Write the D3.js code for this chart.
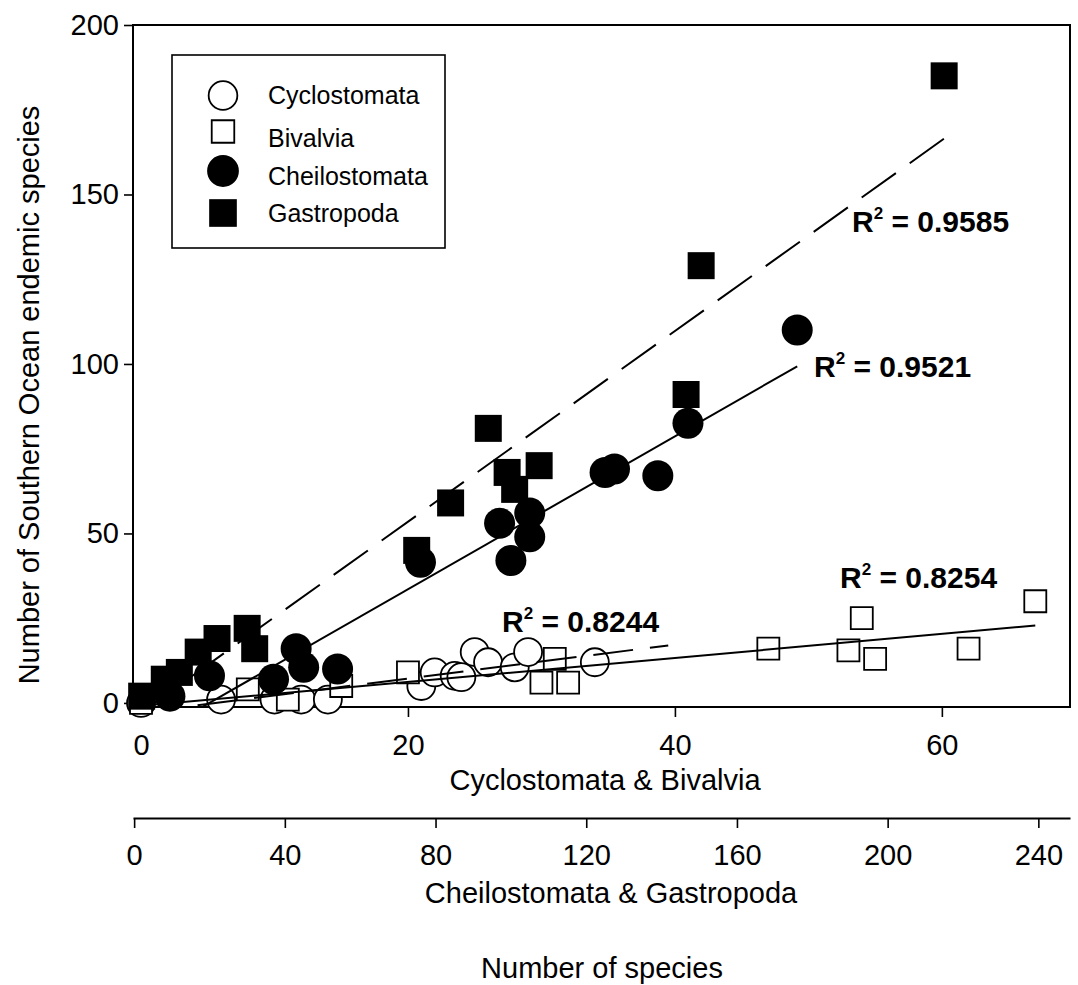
<!DOCTYPE html>
<html>
<head>
<meta charset="utf-8">
<script src="https://cdn.jsdelivr.net/npm/d3@7"></script>
<style>
  body { margin: 0; background: #fff; }
  svg { display: block; }
  text { font-family: "Liberation Sans", Arial, Helvetica, sans-serif; fill: #000; }
</style>
</head>
<body>
<svg id="chart" width="1078" height="985"></svg>
<script>
// ---- data: endemic species vs total species per sampled area ----
// Cyclostomata & Bivalvia use the upper (0-60) x axis
const cycloTotal   = [0, 6, 10, 12, 14, 21, 22, 23.5, 24, 25, 26, 28, 29, 34];
const cycloEndemic = [0, 1, 1, 1, 1, 5, 9, 8, 7.6, 15, 12, 10.5, 15, 12];

const bivalTotal   = [0, 8, 11, 15, 20, 30, 31, 32, 47, 53, 54, 55, 62, 67];
const bivalEndemic = [0, 4, 1, 5, 9, 6, 13, 6, 16, 15.5, 25, 13, 16, 30];

// Cheilostomata & Gastropoda use the lower (0-240) x axis
const cheiloTotal   = [9.5, 20, 37, 43, 45, 54, 76, 97, 100, 105, 105, 125, 127.5, 139, 147, 176];
const cheiloEndemic = [2, 8, 7, 16, 10.5, 10, 41.5, 53, 42, 56, 49, 68, 69, 67, 82.5, 110];

const gastroTotal   = [2, 8, 12, 17, 22, 30, 32, 75, 84, 94, 99, 101, 107.5, 146.5, 150.5, 215];
const gastroEndemic = [2, 7, 9, 15, 19, 22, 16, 45, 59, 81, 68, 63, 70, 91, 129, 185];

// x extent over which each regression line is drawn
const cycloSpan  = [0, 39.5];
const bivalSpan  = [0, 67];
const cheiloSpan = [9.5, 176];
const gastroSpan = [2, 215];

// reported coefficients of determination
const rSquared = ["0.8244", "0.8254", "0.9521", "0.9585"];

// tick values
const yTicks     = [0, 50, 100, 150, 200];
const xTopTicks  = [0, 20, 40, 60];
const xBotTicks  = [0, 40, 80, 120, 160, 200, 240];

const seriesNames = ["Cyclostomata", "Bivalvia", "Cheilostomata", "Gastropoda"];

// ---- layout ----
const svg = d3.select("#chart");
const frame = { left: 133, right: 1070, top: 25, bottom: 707 };

const y    = d3.scaleLinear().domain([-1.2, 200]).range([frame.bottom, frame.top]);
const xTop = d3.scaleLinear().domain([-0.6, 69.6]).range([frame.left, frame.right]);
const xBot = d3.scaleLinear().domain([-0.3, 248.4]).range([frame.left, frame.right]);

const tickFont = 29;

// clip for regression lines
svg.append("defs").append("clipPath").attr("id", "plotClip")
  .append("rect")
  .attr("x", frame.left).attr("y", frame.top)
  .attr("width", frame.right - frame.left).attr("height", frame.bottom - frame.top);

// ---- axes ----
const yAxis = svg.append("g")
  .attr("transform", `translate(${frame.left},0)`)
  .call(d3.axisLeft(y).tickValues(yTicks).tickSize(9).tickSizeOuter(0).tickPadding(5));

const topAxis = svg.append("g")
  .attr("transform", `translate(0,${frame.bottom})`)
  .call(d3.axisBottom(xTop).tickValues(xTopTicks).tickSize(10).tickSizeOuter(0).tickPadding(17));

const botAxis = svg.append("g")
  .attr("transform", "translate(0,818)")
  .call(d3.axisBottom(xBot).tickValues(xBotTicks).tickSize(10).tickSizeOuter(0).tickPadding(16));

[yAxis, topAxis].forEach(g => g.select(".domain").remove());
[yAxis, topAxis, botAxis].forEach(g => {
  g.selectAll(".tick line").attr("stroke", "#000").attr("stroke-width", 1.6);
  g.selectAll(".tick text")
    .attr("font-size", tickFont)
    .style("font-family", '"Liberation Sans", Arial, sans-serif')
    .attr("fill", "#000");
});
botAxis.select(".domain").attr("stroke", "#000").attr("stroke-width", 2);

// plot frame
svg.append("rect")
  .attr("x", frame.left).attr("y", frame.top)
  .attr("width", frame.right - frame.left).attr("height", frame.bottom - frame.top)
  .attr("fill", "none").attr("stroke", "#000").attr("stroke-width", 2);

// ---- axis titles ----
svg.append("text")
  .attr("x", 605).attr("y", 790)
  .attr("text-anchor", "middle").attr("font-size", tickFont)
  .text("Cyclostomata & Bivalvia");

svg.append("text")
  .attr("x", 611).attr("y", 903)
  .attr("text-anchor", "middle").attr("font-size", tickFont)
  .text("Cheilostomata & Gastropoda");

svg.append("text")
  .attr("x", 602).attr("y", 978)
  .attr("text-anchor", "middle").attr("font-size", tickFont)
  .text("Number of species");

svg.append("text")
  .attr("transform", "translate(39,395) rotate(-90)")
  .attr("text-anchor", "middle").attr("font-size", tickFont)
  .text("Number of Southern Ocean endemic species");

// ---- series ----
const series = [
  { name: seriesNames[0], xs: cycloTotal,  ys: cycloEndemic,  x: xTop, span: cycloSpan,
    shape: d3.symbolCircle, size: Math.PI * 14 * 14, filled: false, dash: "40,17" },
  { name: seriesNames[1], xs: bivalTotal,  ys: bivalEndemic,  x: xTop, span: bivalSpan,
    shape: d3.symbolSquare, size: 22 * 22, filled: false, dash: null },
  { name: seriesNames[2], xs: cheiloTotal, ys: cheiloEndemic, x: xBot, span: cheiloSpan,
    shape: d3.symbolCircle, size: Math.PI * 15.5 * 15.5, filled: true, dash: null },
  { name: seriesNames[3], xs: gastroTotal, ys: gastroEndemic, x: xBot, span: gastroSpan,
    shape: d3.symbolSquare, size: 27 * 27, filled: true, dash: "42,17" }
];

// markers
series.forEach(s => {
  const sym = d3.symbol().type(s.shape).size(s.size);
  svg.append("g")
    .selectAll("path")
    .data(d3.zip(s.xs, s.ys))
    .join("path")
    .attr("d", sym)
    .attr("transform", d => `translate(${s.x(d[0])},${y(d[1])})`)
    .attr("fill", s.filled ? "#000" : "#fff")
    .attr("stroke", "#000")
    .attr("stroke-width", s.filled ? 0 : 1.8);
});

// least-squares regression lines
function fitLine(xs, ys) {
  const mx = d3.mean(xs), my = d3.mean(ys);
  let sxy = 0, sxx = 0;
  xs.forEach((xv, i) => { sxy += (xv - mx) * (ys[i] - my); sxx += (xv - mx) * (xv - mx); });
  const slope = sxy / sxx;
  return { slope, intercept: my - slope * mx };
}

const lines = svg.append("g").attr("clip-path", "url(#plotClip)");
series.forEach(s => {
  const f = fitLine(s.xs, s.ys);
  const pts = s.span.map(v => [s.x(v), y(f.intercept + f.slope * v)]);
  lines.append("path")
    .attr("d", d3.line()(pts))
    .attr("fill", "none")
    .attr("stroke", "#000")
    .attr("stroke-width", 2)
    .attr("stroke-dasharray", s.dash);
});

// ---- R² labels ----
const rLabels = [
  { x: 502, y: 632, v: rSquared[0] },
  { x: 840, y: 588, v: rSquared[1] },
  { x: 814, y: 377, v: rSquared[2] },
  { x: 852, y: 232, v: rSquared[3] }
];
rLabels.forEach(l => {
  const t = svg.append("text")
    .attr("x", l.x).attr("y", l.y)
    .attr("font-size", 30).attr("font-weight", "bold");
  t.append("tspan").text("R");
  t.append("tspan").attr("font-size", 17).attr("dy", -13).text("2");
  t.append("tspan").attr("dy", 13).text(" = " + l.v);
});

// ---- legend ----
const legend = svg.append("g");
legend.append("rect")
  .attr("x", 172).attr("y", 55).attr("width", 273).attr("height", 193)
  .attr("fill", "#fff").attr("stroke", "#000").attr("stroke-width", 1.6);

const legendSymbolY = [95.5, 131.5, 171, 213];
const legendTextY   = [104, 147, 185, 222];
series.forEach((s, i) => {
  legend.append("path")
    .attr("d", d3.symbol().type(s.shape).size(s.size * (s.filled ? 1.05 : 1.05))())
    .attr("transform", `translate(223,${legendSymbolY[i]})`)
    .attr("fill", s.filled ? "#000" : "#fff")
    .attr("stroke", "#000")
    .attr("stroke-width", s.filled ? 0 : 1.8);
  legend.append("text")
    .attr("x", 268).attr("y", legendTextY[i])
    .attr("font-size", 25)
    .text(s.name);
});
</script>
</body>
</html>
